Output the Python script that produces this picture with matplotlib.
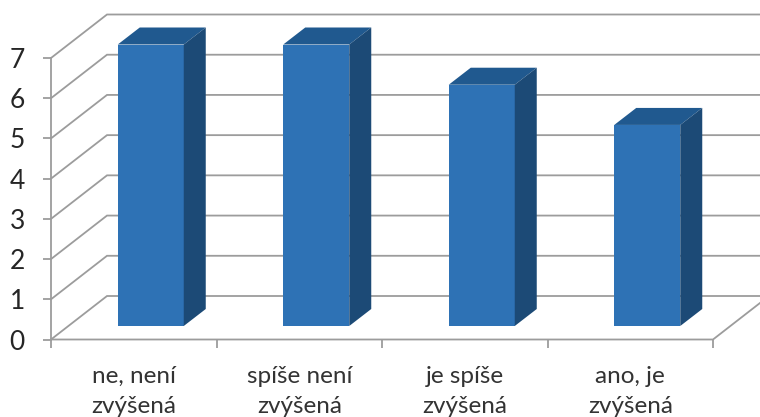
import matplotlib
matplotlib.use("Agg")
import matplotlib.pyplot as plt
from matplotlib.patches import Polygon

categories = ["ne, není\nzvýšená", "spíše není\nzvýšená", "je spíše\nzvýšená", "ano, je\nzvýšená"]
values = [7, 7, 6, 5]
yticks = [0, 1, 2, 3, 4, 5, 6, 7]

W, H = 760, 417
fig = plt.figure(figsize=(W / 100, H / 100), dpi=100, facecolor="white")
L, R, B, T = 51, 713, 339.5, 58
ax = fig.add_axes([L / W, 1 - B / H, (R - L) / W, (B - T) / H])
ax.set_xlim(0, 4)
ax.set_ylim(0, 7)
for s in ax.spines.values():
    s.set_visible(False)
ux = (R - L) / 4
uy = (B - T) / 7

GRID = "#9c9c9c"
lw = 1.3
wall_dx, wall_dy = 56 / ux, 43.5 / uy
for v in yticks:
    ax.plot([0, wall_dx, 4 + wall_dx], [v, v + wall_dy, v + wall_dy],
            color=GRID, lw=lw, clip_on=False, zorder=1, solid_joinstyle="miter")
ax.plot([0, 4, 4 + wall_dx], [0, 0, wall_dy], color=GRID, lw=lw, clip_on=False, zorder=1)
ax.plot([0, 0], [0, 7], color=GRID, lw=lw, clip_on=False, zorder=1)

bw = 66 / ux
off_x = 17 / ux
off_y = 13.5 / uy
dx, dy = 22 / ux, 17 / uy
FRONT, TOP, SIDE = "#2e72b5", "#20598f", "#1c4a76"
for i, v in enumerate(values):
    x0 = i + 0.5 + off_x - bw / 2
    x1 = x0 + bw
    y0 = off_y
    y1 = off_y + v
    ax.bar(x0 + bw / 2, v, width=bw, bottom=y0, color=FRONT, edgecolor="none", zorder=3, clip_on=False)
    ax.add_patch(Polygon([(x0, y1), (x1, y1), (x1 + dx, y1 + dy), (x0 + dx, y1 + dy)],
                         closed=True, fc=TOP, ec="none", zorder=3, clip_on=False))
    ax.add_patch(Polygon([(x1, y0), (x1 + dx, y0 + dy), (x1 + dx, y1 + dy), (x1, y1)],
                         closed=True, fc=SIDE, ec="none", zorder=3, clip_on=False))

font = ["Lato", "DejaVu Sans"]
ax.set_yticks(yticks)
ax.set_yticklabels([str(v) for v in yticks], fontsize=19, family=font, color="#262626")
ax.set_xticks([0, 1, 2, 3, 4])
ax.set_xticklabels([])
ax.tick_params(axis="both", color=GRID, width=lw, length=5.8)
ax.tick_params(axis="y", pad=13)
ax.set_xticks([0.5, 1.5, 2.5, 3.5], minor=True)
ax.set_xticklabels(categories, minor=True, fontsize=17.5, family=font, color="#333333", linespacing=1.52)
ax.tick_params(axis="x", which="minor", length=0, pad=19)

fig.savefig("out.png", dpi=100, facecolor="white")
